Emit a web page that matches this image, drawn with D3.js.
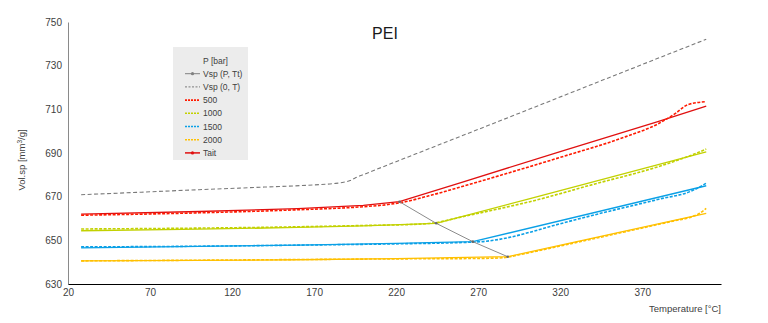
<!DOCTYPE html>
<html><head><meta charset="utf-8">
<script src="https://cdn.jsdelivr.net/npm/d3@7"></script>
<style>body{margin:0;background:#fff}svg{display:block;font-family:"Liberation Sans",Arial,sans-serif}</style>
</head><body>
<svg id="c" width="768" height="323"></svg>
<script>
const title = "PEI";
const xTicks = [20, 70, 120, 170, 220, 270, 320, 370];
const yTicks = [630, 650, 670, 690, 710, 730, 750];

// Vsp (0,T)
const zeroT = [28, 60, 100, 140, 170, 182, 188, 192, 195, 199, 250, 300, 350, 409];
const zeroV = [670.9, 671.9, 673.2, 674.4, 675.4, 676.0, 676.6, 677.4, 678.6, 679.8, 694.9, 709.7, 724.6, 742.1];

// Vsp (P, Tt)
const ttT = [222, 244.4, 266.7, 288];
const ttV = [667.7, 657.8, 649.4, 642.5];

// measured (dashed)
const m500T = [28, 100, 160, 200, 215, 225, 240, 270, 320, 360, 380, 390, 398, 409];
const m500V = [661.5, 662.6, 664.0, 665.4, 666.4, 667.6, 670.4, 676.8, 688.0, 697.5, 703.5, 708.0, 712.2, 713.5];
const m1000T = [28, 100, 160, 200, 230, 245, 258, 280, 301, 340, 380, 400, 409];
const m1000V = [655.2, 655.6, 656.2, 656.8, 657.3, 658.2, 660.4, 664.0, 667.6, 675.6, 683.8, 689.0, 691.8];
const m1500T = [28, 100, 160, 220, 260, 275, 290, 301, 320, 340, 380, 400, 405, 409];
const m1500V = [647.0, 647.3, 647.8, 648.4, 649.0, 649.6, 651.5, 653.6, 657.6, 661.5, 668.8, 672.6, 674.4, 676.2];
const m2000T = [28, 100, 160, 220, 270, 285, 295, 320, 360, 390, 400, 405, 409];
const m2000V = [640.6, 640.9, 641.2, 641.5, 641.7, 642.0, 643.4, 647.4, 654.0, 659.0, 660.7, 662.4, 664.6];

// Tait fit (solid)
const t500T = [28, 100, 160, 200, 222, 260, 320, 380, 409];
const t500V = [662.0, 663.2, 664.5, 666.0, 667.7, 676.6, 690.6, 704.5, 711.5];
const t1000T = [28, 100, 160, 200, 244.4, 301, 409];
const t1000V = [654.4, 655.1, 655.9, 656.6, 657.8, 669.0, 690.5];
const t1500T = [28, 100, 160, 220, 266.7, 409];
const t1500V = [646.5, 647.2, 647.8, 648.6, 649.4, 675.0];
const t2000T = [28, 100, 160, 220, 288, 409];
const t2000V = [640.6, 640.8, 641.1, 641.6, 642.5, 662.4];

const legendTitle = "P [bar]";
const legendLabels = ["Vsp (P, Tt)", "Vsp (0, T)", "500", "1000", "1500", "2000", "Tait"];

const C = {grey:"#7a7a7a", tt:"#8c8c8c", r:"#ff1a00", g:"#c2d100", b:"#0aa0e6", y:"#ffc000", tait:"#e01010"};

const svg = d3.select("#c");
const x = d3.scaleLinear().domain([20, 418]).range([68, 721]);
const y = d3.scaleLinear().domain([630, 750]).range([284, 22]);

// axes
const yAxis = svg.append("g").attr("transform","translate(68,0)")
  .call(d3.axisLeft(y).tickValues(yTicks).tickSize(0).tickPadding(6).tickFormat(d3.format("d")));
yAxis.select(".domain").attr("stroke","#8a8a8a");
yAxis.selectAll("text").attr("font-size","10px").attr("fill","#404040").attr("font-family","Liberation Sans, Arial");

const xAxis = svg.append("g").attr("transform","translate(0,284)")
  .call(d3.axisBottom(x).tickValues(xTicks).tickSize(0).tickPadding(5).tickFormat(d3.format("d")));
xAxis.select(".domain").attr("stroke","#000").attr("stroke-width",1.2);
xAxis.selectAll("text").attr("font-size","10px").attr("fill","#404040").attr("font-family","Liberation Sans, Arial");

svg.append("text").attr("x",721).attr("y",312).attr("text-anchor","end")
  .attr("font-size","9.5px").attr("fill","#404040").text("Temperature [°C]");
svg.append("text").attr("transform","translate(25,160) rotate(-90)").attr("text-anchor","middle")
  .attr("font-size","9.5px").attr("fill","#404040")
  .html('Vol.sp [mm<tspan dy="-3" font-size="6.5px">3</tspan><tspan dy="3">/g]</tspan>');
svg.append("text").attr("x",385).attr("y",39).attr("text-anchor","middle")
  .attr("font-size","16px").attr("fill","#1a1a1a").text(title);

const smooth = d3.line().x(d=>x(d[0])).y(d=>y(d[1])).curve(d3.curveMonotoneX);
const straight = d3.line().x(d=>x(d[0])).y(d=>y(d[1]));
const zip = (a,b)=>a.map((v,i)=>[v,b[i]]);

function draw(T,V,color,w,dash,gen){
  svg.append("path").datum(zip(T,V)).attr("d",gen||smooth).attr("fill","none")
    .attr("stroke",color).attr("stroke-width",w).attr("stroke-dasharray",dash||null);
}
// Tait solid
draw(t500T,t500V,C.tait,1.3,null,straight);
draw(t1000T,t1000V,C.g,1.3,null,straight);
draw(t1500T,t1500V,C.b,1.3,null,straight);
draw(t2000T,t2000V,C.y,1.3,null,straight);
// measured dashed
draw(m500T,m500V,C.r,1.6,"3,1.5");
draw(m1000T,m1000V,C.g,1.6,"3,1.5");
draw(m1500T,m1500V,C.b,1.6,"3,1.5");
draw(m2000T,m2000V,C.y,1.6,"3,1.5");
// Vsp(0,T)
draw(zeroT,zeroV,C.grey,1.1,"4,2.5");
// Tt line
svg.append("path").datum(zip(ttT,ttV)).attr("d",straight)
  .attr("fill","none").attr("stroke",C.tt).attr("stroke-width",1);
svg.selectAll(".tt").data(zip(ttT,ttV)).enter().append("circle")
  .attr("cx",d=>x(d[0])).attr("cy",d=>y(d[1])).attr("r",1.3).attr("fill","#666");

// legend
const lg = svg.append("g");
lg.append("rect").attr("x",173).attr("y",47).attr("width",75).attr("height",113).attr("fill","#ececec");
lg.append("text").attr("x",203).attr("y",64).attr("font-size","8.5px").attr("fill","#404040").text(legendTitle);
const styles = [
  {c:"#808080",dash:null,w:1,m:true},
  {c:C.grey,dash:"2,1.5",w:1,m:false},
  {c:C.r,dash:"2,1",w:1.6,m:false},
  {c:C.g,dash:"2,1",w:1.6,m:false},
  {c:C.b,dash:"2,1",w:1.6,m:false},
  {c:C.y,dash:"2,1",w:1.6,m:false},
  {c:C.tait,dash:null,w:1.5,m:true}
];
legendLabels.forEach((lab,i)=>{
  const yy = 73.7 + i*13.2;
  lg.append("line").attr("x1",185).attr("x2",200).attr("y1",yy).attr("y2",yy)
    .attr("stroke",styles[i].c).attr("stroke-width",styles[i].w).attr("stroke-dasharray",styles[i].dash);
  if(styles[i].m) lg.append("circle").attr("cx",192.5).attr("cy",yy).attr("r",1.6).attr("fill",styles[i].c);
  lg.append("text").attr("x",203).attr("y",yy+3).attr("font-size","8.5px").attr("fill","#404040").text(lab);
});
</script>
</body></html>
